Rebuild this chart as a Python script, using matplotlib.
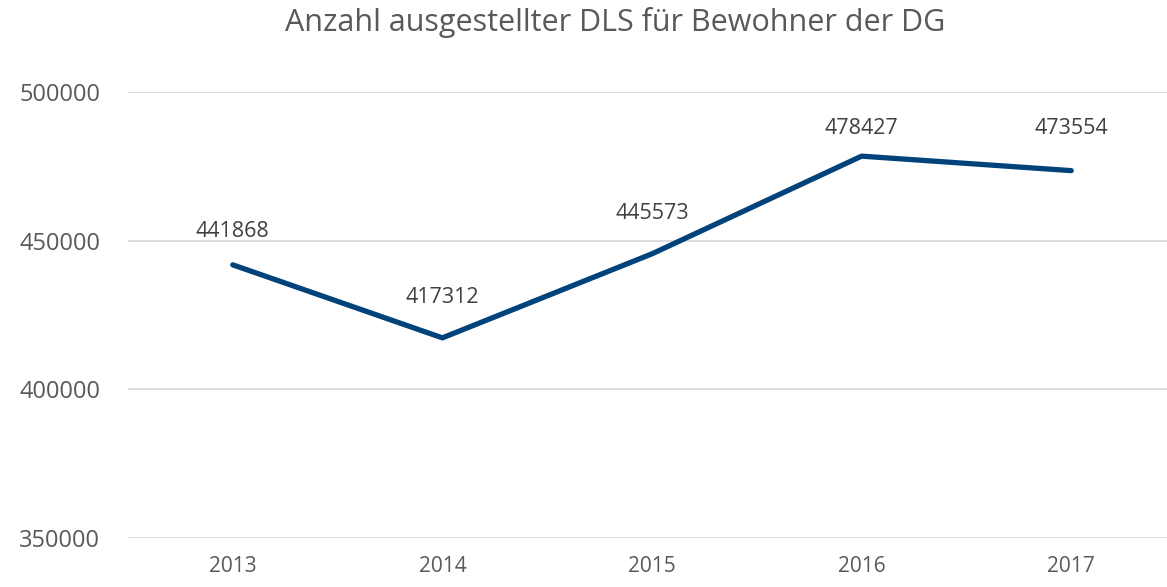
import matplotlib
matplotlib.use('Agg')
import matplotlib.pyplot as plt

# Daten
jahre = ['2013', '2014', '2015', '2016', '2017']
anzahl = [441868, 417312, 445573, 478427, 473554]
label_offset = [24, 29, 29, 20, 30]

plt.rcParams['font.family'] = ['Open Sans', 'DejaVu Sans']

fig = plt.figure(figsize=(11.67, 5.87), dpi=100)
ax = fig.add_axes([128 / 1167, 49 / 587, 1048 / 1167, 446 / 587])

x = range(len(jahre))
ax.plot(x, anzahl, color='#00427a', linewidth=3.8, solid_capstyle='round', solid_joinstyle='round', zorder=3)

for i, v in enumerate(anzahl):
    ax.annotate(str(v), (i, v), xytext=(0, label_offset[i]), textcoords='offset points',
                ha='center', va='center', fontsize=15.5, color='#404040')

ax.set_xlim(-0.5, len(jahre) - 0.5)
ax.set_ylim(350000, 500000)
ax.set_yticks([350000, 400000, 450000, 500000])
ax.set_yticklabels(['350000', '400000', '450000', '500000'])
ax.set_xticks(list(x))
ax.set_xticklabels(jahre)
ax.tick_params(axis='x', length=0, labelsize=15, labelcolor='#595959', pad=13)
ax.tick_params(axis='y', length=0, labelsize=17, labelcolor='#595959', pad=20)
ax.grid(True, axis='y', color='#d9d9d9', linewidth=1.3)
ax.set_axisbelow(True)
for s in ax.spines.values():
    s.set_visible(False)

fig.text(615 / 1167, 1 - 23 / 587, 'Anzahl ausgestellter DLS für Bewohner der DG',
         ha='center', va='center', fontsize=22, color='#595959')

fig.savefig('out.png', dpi=100)
